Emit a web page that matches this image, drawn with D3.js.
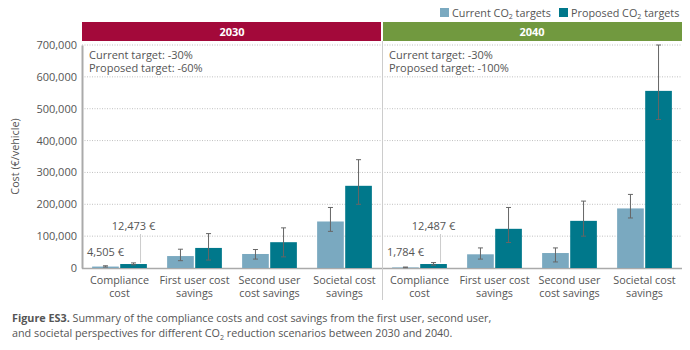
<!DOCTYPE html>
<html lang="en">
<head>
    <meta charset="UTF-8">
    <title>Compliance costs and cost savings</title>
    <script src="https://d3js.org/d3.v7.min.js"></script>
    <style>
        body { margin: 0; background: #fff; }
        text { font-family: "Open Sans", sans-serif; }
    </style>
</head>
<body>
<svg id="chart"></svg>
<script>
    const YEARS = ["2030", "2040"];
    const CATEGORIES = ["Compliance cost", "First user cost savings", "Second user cost savings", "Societal cost savings"];
    const CATEGORY_LINES = [["Compliance", "cost"], ["First user cost", "savings"], ["Second user", "cost savings"], ["Societal cost", "savings"]];
    const SERIES = ["Current CO₂ targets", "Proposed CO₂ targets"];

    const CURRENT_2030 = [4505, 37500, 44000, 146000];
    const PROPOSED_2030 = [12473, 63000, 81000, 258000];
    const CURRENT_2040 = [1784, 43000, 47000, 187000];
    const PROPOSED_2040 = [12487, 123000, 148000, 556000];

    // error bar ranges (low / high)
    const CURRENT_2030_LOW = [3000, 23000, 28000, 115000];
    const CURRENT_2030_HIGH = [7000, 59000, 58000, 190000];
    const PROPOSED_2030_LOW = [10000, 25000, 35000, 200000];
    const PROPOSED_2030_HIGH = [16000, 108000, 126000, 340000];
    const CURRENT_2040_LOW = [1000, 28000, 19000, 157000];
    const CURRENT_2040_HIGH = [3000, 63000, 63000, 231000];
    const PROPOSED_2040_LOW = [9000, 80000, 100000, 466000];
    const PROPOSED_2040_HIGH = [17000, 190000, 210000, 700000];

    const TARGET_CURRENT = ["-30%", "-30%"];
    const TARGET_PROPOSED = ["-60%", "-100%"];
    const Y_TICKS = [0, 100000, 200000, 300000, 400000, 500000, 600000, 700000];

    const width = 690, height = 350;
    const plot = {left: 82, right: 682, top: 45, bottom: 268};
    const headerColors = ["#a3093a", "#71993f"];
    const seriesColors = ["#7aa9c0", "#00788b"];
    const textColor = "#555";

    const svg = d3.select("#chart").attr("width", width).attr("height", height);

    const values = {
        "2030": [CURRENT_2030, PROPOSED_2030],
        "2040": [CURRENT_2040, PROPOSED_2040]
    };
    const lows = {
        "2030": [CURRENT_2030_LOW, PROPOSED_2030_LOW],
        "2040": [CURRENT_2040_LOW, PROPOSED_2040_LOW]
    };
    const highs = {
        "2030": [CURRENT_2030_HIGH, PROPOSED_2030_HIGH],
        "2040": [CURRENT_2040_HIGH, PROPOSED_2040_HIGH]
    };

    const yScale = d3.scaleLinear().domain([0, 700000]).range([plot.bottom, plot.top]);
    const panelScale = d3.scaleBand().domain(YEARS).range([plot.left, plot.right]);
    const catScale = d3.scaleBand().domain(CATEGORIES).range([0, panelScale.bandwidth()])
        .paddingInner(0.27).paddingOuter(0.135);
    const serScale = d3.scaleBand().domain(SERIES).range([0, catScale.bandwidth()]).paddingInner(0.05);

    // gridlines
    svg.append("g")
        .selectAll("line")
        .data(Y_TICKS.filter(d => d > 0))
        .enter()
        .append("line")
        .attr("x1", plot.left)
        .attr("x2", plot.right)
        .attr("y1", d => yScale(d))
        .attr("y2", d => yScale(d))
        .attr("stroke", "#c0c0c0")
        .attr("stroke-dasharray", "1,1.5");

    // y axis
    const yAxis = svg.append("g")
        .attr("transform", "translate(" + plot.left + ",0)")
        .call(d3.axisLeft(yScale).tickValues(Y_TICKS).tickSize(0).tickPadding(5).tickFormat(d3.format(",")));
    yAxis.select(".domain").attr("stroke", "#aaa").attr("stroke-width", 2);
    yAxis.selectAll("text").attr("fill", textColor).attr("font-size", "11px")
        .style("font-family", "'Open Sans', sans-serif");

    svg.append("text")
        .attr("transform", "translate(19," + ((plot.top + plot.bottom) / 2) + ") rotate(-90)")
        .attr("text-anchor", "middle")
        .attr("fill", textColor)
        .attr("font-size", "10.8px")
        .text("Cost (€/vehicle)");

    // baseline
    svg.append("line")
        .attr("x1", plot.left).attr("x2", plot.right)
        .attr("y1", yScale(0) + 0.5).attr("y2", yScale(0) + 0.5)
        .attr("stroke", "#aaa").attr("stroke-width", 1.5);

    // panel divider
    svg.append("line")
        .attr("x1", panelScale("2040") + 0.5).attr("x2", panelScale("2040") + 0.5)
        .attr("y1", 41).attr("y2", 300)
        .attr("stroke", "#ccc").attr("stroke-width", 1);

    // header bands
    YEARS.forEach((year, i) => {
        svg.append("rect")
            .attr("x", panelScale(year) + (i === 0 ? 0 : 1))
            .attr("y", 22)
            .attr("width", panelScale.bandwidth() - 1)
            .attr("height", 19)
            .attr("fill", headerColors[i]);
        svg.append("text")
            .attr("x", panelScale(year) + panelScale.bandwidth() / 2)
            .attr("y", 35.5)
            .attr("text-anchor", "middle")
            .attr("fill", "#fff")
            .attr("font-size", "11px")
            .attr("font-weight", "bold")
            .text(year);

        const note = svg.append("text")
            .attr("x", panelScale(year) + 7)
            .attr("y", 59)
            .attr("fill", textColor)
            .attr("font-size", "11px");
        note.append("tspan").attr("x", panelScale(year) + 7).text("Current target: " + TARGET_CURRENT[i]);
        note.append("tspan").attr("x", panelScale(year) + 7).attr("dy", 12.5).text("Proposed target: " + TARGET_PROPOSED[i]);
    });

    // bars
    YEARS.forEach(year => {
        const g = svg.append("g").attr("transform", "translate(" + panelScale(year) + ",0)");
        SERIES.forEach((s, si) => {
            const rows = CATEGORIES.map((c, ci) => ({
                cat: c,
                value: values[year][si][ci],
                low: lows[year][si][ci],
                high: highs[year][si][ci]
            }));

            g.selectAll(".bar-" + si)
                .data(rows)
                .enter()
                .append("rect")
                .attr("x", d => catScale(d.cat) + serScale(s))
                .attr("y", d => yScale(d.value))
                .attr("width", serScale.bandwidth())
                .attr("height", d => yScale(0) - yScale(d.value))
                .attr("fill", seriesColors[si]);

            const err = g.selectAll(".err-" + si)
                .data(rows)
                .enter()
                .append("g")
                .attr("transform", d => "translate(" + (catScale(d.cat) + serScale(s) + serScale.bandwidth() / 2) + ",0)");
            err.append("line")
                .attr("y1", d => yScale(d.low)).attr("y2", d => yScale(d.high))
                .attr("stroke", "#666").attr("stroke-width", 1);
            err.append("line")
                .attr("x1", -2.5).attr("x2", 2.5)
                .attr("y1", d => yScale(d.high)).attr("y2", d => yScale(d.high))
                .attr("stroke", "#666").attr("stroke-width", 1);
            err.append("line")
                .attr("x1", -2.5).attr("x2", 2.5)
                .attr("y1", d => yScale(d.low)).attr("y2", d => yScale(d.low))
                .attr("stroke", "#666").attr("stroke-width", 1);
        });

        // compliance cost value labels
        const comp = CATEGORIES[0];
        const cx0 = catScale(comp) + serScale(SERIES[0]) + serScale.bandwidth() / 2;
        const cx1 = catScale(comp) + serScale(SERIES[1]) + serScale.bandwidth() / 2;
        g.append("text")
            .attr("x", cx0).attr("y", yScale(values[year][0][0]) - 11)
            .attr("text-anchor", "middle").attr("fill", textColor).attr("font-size", "11px")
            .text(d3.format(",")(values[year][0][0]) + " €");
        g.append("line")
            .attr("x1", cx1 + 7).attr("x2", cx1 + 7)
            .attr("y1", 234).attr("y2", yScale(highs[year][1][0]))
            .attr("stroke", "#ccc").attr("stroke-width", 1);
        g.append("text")
            .attr("x", cx1).attr("y", 230)
            .attr("text-anchor", "middle").attr("fill", textColor).attr("font-size", "11px")
            .text(d3.format(",")(values[year][1][0]) + " €");

        // x labels
        const xl = g.selectAll(".xlab")
            .data(CATEGORIES)
            .enter()
            .append("text")
            .attr("text-anchor", "middle")
            .attr("fill", textColor)
            .attr("font-size", "10.8px");
        xl.each(function(c, ci) {
            CATEGORY_LINES[ci].forEach((line, li) => {
                d3.select(this).append("tspan")
                    .attr("x", catScale(c) + catScale.bandwidth() / 2)
                    .attr("y", 284 + li * 12.5)
                    .text(line);
            });
        });
    });

    // legend
    const legendX = [440, 559];
    SERIES.forEach((s, i) => {
        svg.append("rect")
            .attr("x", legendX[i]).attr("y", 8)
            .attr("width", 9).attr("height", 9)
            .attr("fill", seriesColors[i]);
        const t = svg.append("text")
            .attr("x", legendX[i] + 12).attr("y", 16.5)
            .attr("fill", textColor).attr("font-size", "10.8px");
        t.append("tspan").text(s.replace("₂", "").split("CO")[0] + "CO");
        t.append("tspan").attr("font-size", "7px").attr("dy", 2.5).text("2");
        t.append("tspan").attr("dy", -2.5).text(s.split("₂")[1]);
    });

    // caption
    const cap = svg.append("text").attr("x", 12).attr("y", 322).attr("fill", textColor).attr("font-size", "10.8px");
    cap.append("tspan").attr("font-weight", "bold").text("Figure ES3.");
    cap.append("tspan").text(" Summary of the compliance costs and cost savings from the first user, second user,");
    const cap2 = svg.append("text").attr("x", 12).attr("y", 337).attr("fill", textColor).attr("font-size", "10.8px");
    cap2.append("tspan").text("and societal perspectives for different CO");
    cap2.append("tspan").attr("font-size", "7px").attr("dy", 2.5).text("2");
    cap2.append("tspan").attr("dy", -2.5).text(" reduction scenarios between 2030 and 2040.");
</script>
</body>
</html>
